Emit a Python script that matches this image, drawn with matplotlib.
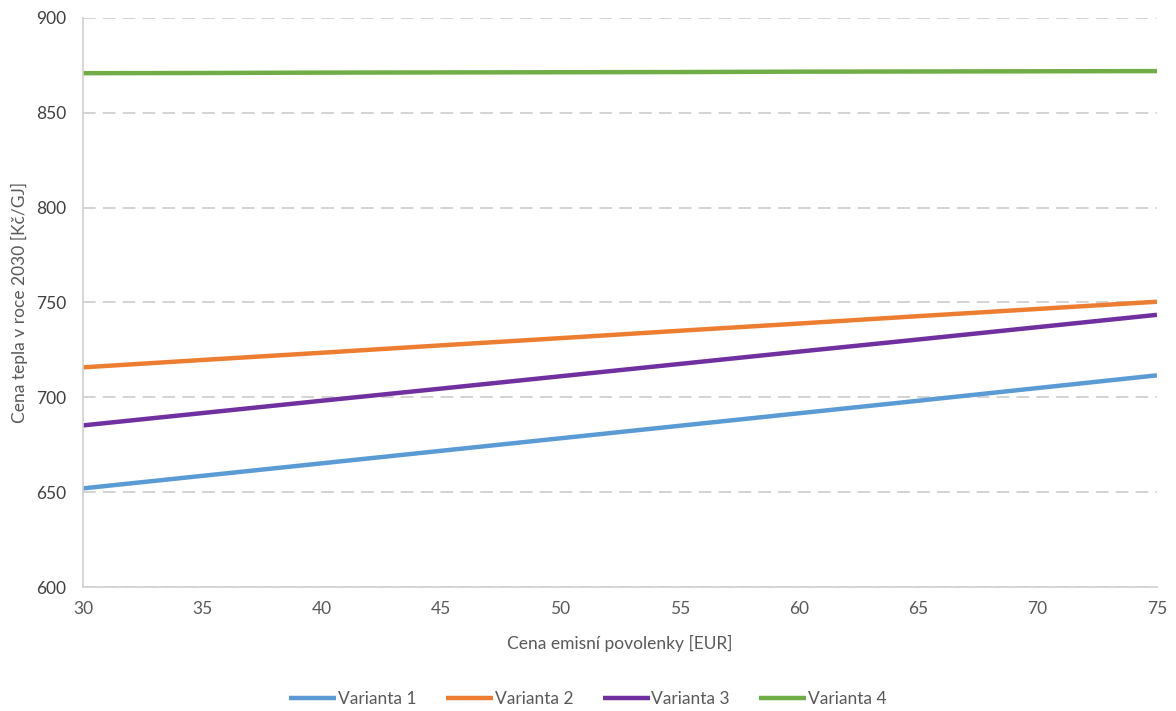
import matplotlib.pyplot as plt

plt.rcParams['font.family'] = ['Lato', 'DejaVu Sans']

# cena emisni povolenky [EUR]
povolenka = [30, 35, 40, 45, 50, 55, 60, 65, 70, 75]

varianta_1 = [652.0, 658.6, 665.2, 671.8, 678.4, 685.0, 691.6, 698.2, 704.9, 711.6]
varianta_2 = [715.8, 719.7, 723.5, 727.4, 731.2, 735.1, 738.9, 742.8, 746.6, 750.4]
varianta_3 = [685.2, 691.7, 698.2, 704.6, 711.1, 717.6, 724.1, 730.5, 737.0, 743.5]
varianta_4 = [870.9, 871.0, 871.2, 871.3, 871.4, 871.5, 871.7, 871.8, 871.9, 872.0]

series = [
    ("Varianta 1", varianta_1, "#5B9BD5"),
    ("Varianta 2", varianta_2, "#ED7D31"),
    ("Varianta 3", varianta_3, "#7030A0"),
    ("Varianta 4", varianta_4, "#70AD47"),
]

fig = plt.figure(figsize=(11.76, 7.11), dpi=100)
ax = fig.add_axes([0.0706, 0.1744, 0.9132, 0.8003])

for name, values, color in series:
    ax.plot(povolenka, values, color=color, linewidth=3.2, label=name,
            solid_capstyle='butt')

ax.set_xlim(30, 75)
ax.set_ylim(600, 900)
ax.set_xticks(range(30, 80, 5))
ax.set_yticks(range(600, 950, 50))

ax.yaxis.grid(True, color="#d0d0d0", linestyle=(0, (7, 4)), linewidth=1.3)
ax.set_axisbelow(True)

for side in ["top", "right"]:
    ax.spines[side].set_visible(False)
for side in ["left", "bottom"]:
    ax.spines[side].set_color("#d0d0d0")
    ax.spines[side].set_linewidth(1.2)

ax.tick_params(axis="both", length=0, labelsize=12.5)
ax.tick_params(axis="y", colors="#404040", pad=12)
ax.tick_params(axis="x", colors="#595959", pad=10)

ax.set_xlabel("Cena emisní povolenky [EUR]", fontsize=12.5, color="#595959", labelpad=13)
ax.set_ylabel("Cena tepla v roce 2030 [Kč/GJ]", fontsize=12.5, color="#595959", labelpad=6)

fig.legend(loc="center", bbox_to_anchor=(0.5, 0.017), ncol=4, frameon=False,
           fontsize=12.5, handlelength=2.7, handletextpad=0.1, columnspacing=1.7,
           labelcolor="#595959")

fig.savefig("out.png", dpi=100)
